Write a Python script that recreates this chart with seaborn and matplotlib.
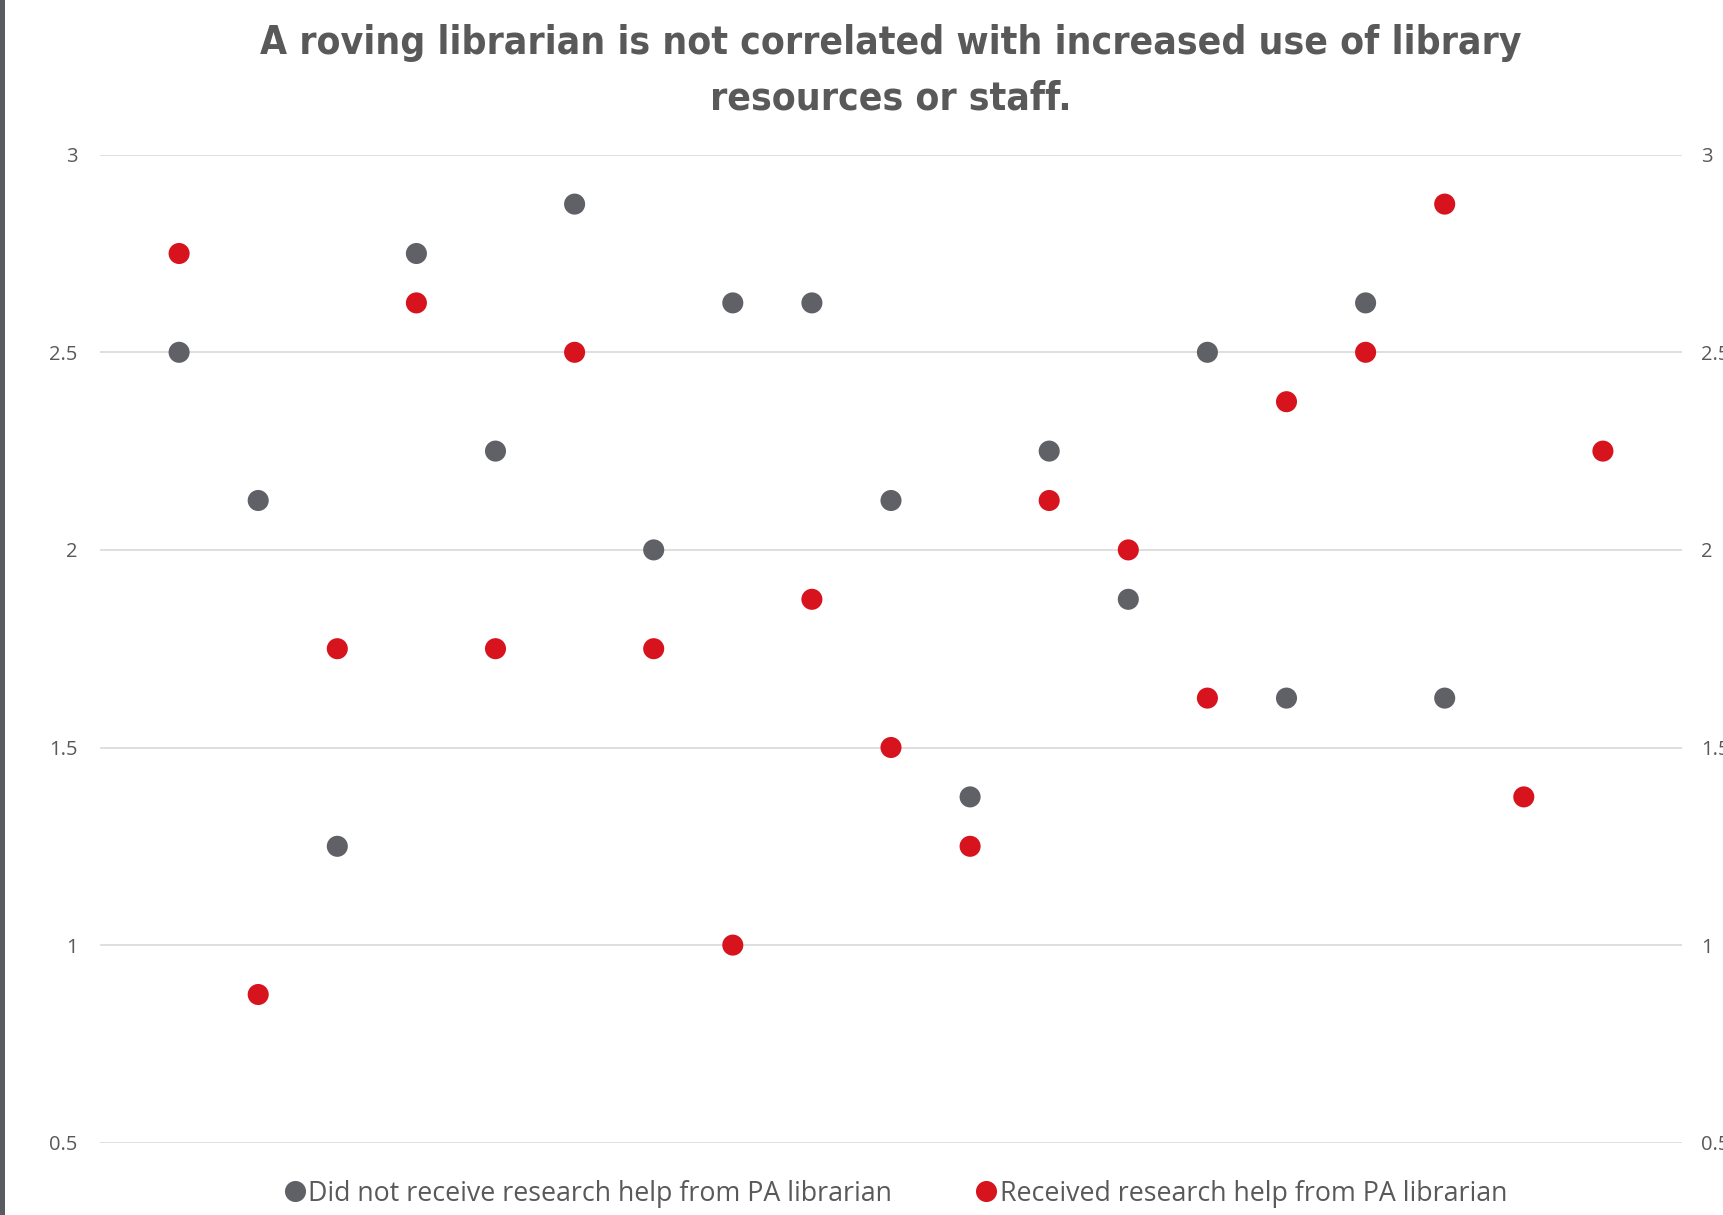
import numpy as np
import pandas as pd
import matplotlib
matplotlib.use("Agg")
import matplotlib.pyplot as plt
import seaborn as sns
from matplotlib.patches import Rectangle

# ---- data ----
positions = list(range(1, 20))
no_help = [2.5, 2.125, 1.25, 2.75, 2.25, 2.875, 2.0, 2.625, 2.625, 2.125,
           1.375, 2.25, 1.875, 2.5, 1.625, 2.625, 1.625, np.nan, np.nan]
got_help = [2.75, 0.875, 1.75, 2.625, 1.75, 2.5, 1.75, 1.0, 1.875, 1.5,
            1.25, 2.125, 2.0, 1.625, 2.375, 2.5, 2.875, 1.375, 2.25]
series_names = ["Did not receive research help from PA librarian",
                "Received research help from PA librarian"]
y_ticks = [0.5, 1, 1.5, 2, 2.5, 3]
y_tick_labels = ["0.5", "1", "1.5", "2", "2.5", "3"]
title = "A roving librarian is not correlated with increased use of library\nresources or staff."

df = pd.concat([
    pd.DataFrame({"x": positions, "y": no_help, "group": series_names[0]}),
    pd.DataFrame({"x": positions, "y": got_help, "group": series_names[1]}),
]).dropna()

GRAY = "#5f6166"
RED = "#d7141d"
TEXT = "#595959"

sns.set_theme(style="white")
plt.rcParams["font.family"] = ["Open Sans", "DejaVu Sans"]

fig = plt.figure(figsize=(17.23, 12.15), dpi=100)
ax = fig.add_axes([100 / 1723, 1 - 1142.7 / 1215, (1682 - 100) / 1723, (1142.7 - 154.7) / 1215])

sns.scatterplot(data=df, x="x", y="y", hue="group",
                palette={series_names[0]: GRAY, series_names[1]: RED},
                hue_order=series_names, s=230, linewidth=0, ax=ax, zorder=3)

ax.set_xlim(0, 20)
ax.set_ylim(0.5, 3)
ax.set_xticks([])
ax.set_yticks(y_ticks)
ax.set_yticklabels(y_tick_labels)
ax.set_xlabel("")
ax.set_ylabel("")
ax.grid(axis="y", color="#d9d9d9", linewidth=1.2, zorder=0)
ax.set_axisbelow(True)
for sp in ax.spines.values():
    sp.set_visible(False)
ax.tick_params(axis="y", length=0, pad=16, labelsize=14.5, labelcolor=TEXT)

ax2 = ax.twinx()
ax2.set_ylim(0.5, 3)
ax2.set_yticks(y_ticks)
ax2.set_yticklabels(y_tick_labels)
for sp in ax2.spines.values():
    sp.set_visible(False)
ax2.tick_params(axis="y", length=0, pad=14, labelsize=14.5, labelcolor=TEXT)

handles, labels = ax.get_legend_handles_labels()
ax.get_legend().remove()
fig.legend(handles, labels, loc="center", bbox_to_anchor=(0.519, 0.0175),
           ncol=2, frameon=False, fontsize=19.3, labelcolor=TEXT,
           handletextpad=0.0, columnspacing=3.0, markerscale=1.0,
           handlelength=1.0)

fig.text(0.517, 1 - 71 / 1215, title, ha="center", va="center",
         fontsize=28, fontweight="bold", color=TEXT, linespacing=1.6,
         family=["DejaVu Sans"], fontstretch="condensed")

fig.patches.append(Rectangle((0, 0), 5 / 1723, 1, transform=fig.transFigure,
                             facecolor="#5a5b60", edgecolor="none"))

fig.savefig("out.png", dpi=100)
